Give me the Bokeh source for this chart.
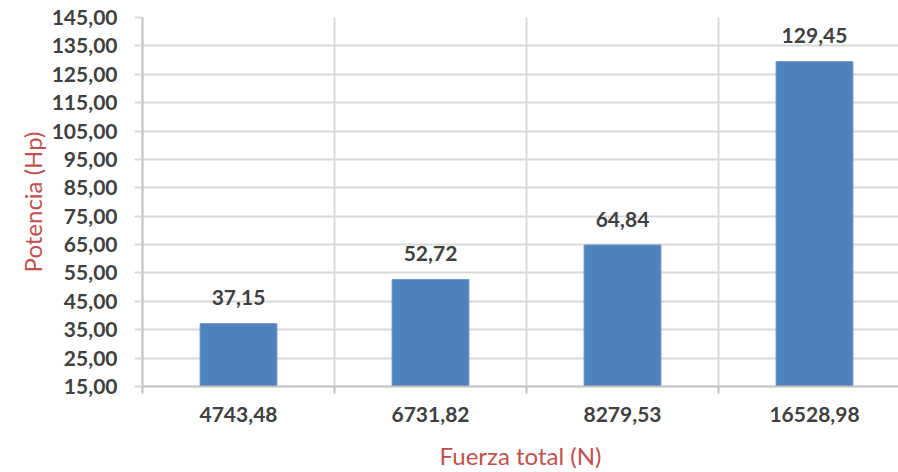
from bokeh.plotting import figure
from bokeh.models import ColumnDataSource, FixedTicker, CustomJSTickFormatter, Range1d
from bokeh.core.properties import value
from bokeh.embed import file_html
from bokeh.resources import INLINE

categories = ["4743,48", "6731,82", "8279,53", "16528,98"]
potencia = [37.15, 52.72, 64.84, 129.45]
y_ticks = list(range(15, 146, 10))

xs = [i + 0.5 for i in range(len(categories))]
labels = [f"{v:.2f}".replace(".", ",") for v in potencia]
src = ColumnDataSource(dict(x=xs, top=potencia, lab=labels))

W, H = 898, 472
p = figure(width=W, height=H, output_backend="svg", toolbar_location=None,
           x_range=Range1d(0, 3.9375), y_range=Range1d(15, 145),
           min_border_left=142, min_border_right=0, min_border_top=17, min_border_bottom=85)
p.outline_line_color = None
p.background_fill_color = "white"

FONT = "Lato"
TXT = "#404040"
RED = "#C0504D"

p.vbar(x="x", top="top", bottom=15, width=0.4, source=src,
       fill_color="#4F81BD", line_color="#6B96CB", line_width=1)
p.text(x="x", y="top", text="lab", source=src, text_align="center",
       text_baseline="middle", y_offset=-26, text_font=value(FONT),
       text_font_style="bold", text_font_size="21px", text_color=TXT)

# y axis
ya = p.yaxis[0]
ya.ticker = FixedTicker(ticks=y_ticks)
ya.formatter = CustomJSTickFormatter(code="return tick.toFixed(2).replace('.', ',');")
ya.axis_line_color = "#BFBFBF"
ya.axis_line_width = 2
ya.major_tick_line_color = "#D9D9D9"
ya.major_tick_line_width = 2
ya.major_tick_out = 8
ya.major_tick_in = 0
ya.minor_tick_line_color = None
ya.major_label_text_font = FONT
ya.major_label_text_font_style = "bold"
ya.major_label_text_font_size = "21px"
ya.major_label_text_color = TXT
ya.major_label_standoff = 17
ya.axis_label = "Potencia (Hp)"
ya.axis_label_text_font = FONT
ya.axis_label_text_font_style = "normal"
ya.axis_label_text_font_size = "24px"
ya.axis_label_text_color = RED
ya.axis_label_standoff = 2

# x axis
xa = p.xaxis[0]
xa.ticker = FixedTicker(ticks=xs, minor_ticks=[0, 1, 2, 3])
xa.major_label_overrides = {x: c for x, c in zip(xs, categories)}
xa.axis_line_color = "#BFBFBF"
xa.axis_line_width = 2
xa.major_tick_line_color = None
xa.minor_tick_line_color = "#BFBFBF"
xa.minor_tick_line_width = 2
xa.minor_tick_out = 7
xa.minor_tick_in = 0
xa.major_label_text_font = FONT
xa.major_label_text_font_style = "bold"
xa.major_label_text_font_size = "21px"
xa.major_label_text_color = TXT
xa.major_label_standoff = 13
xa.axis_label = "Fuerza total (N)"
xa.axis_label_text_font = FONT
xa.axis_label_text_font_style = "normal"
xa.axis_label_text_font_size = "24px"
xa.axis_label_text_color = RED
xa.axis_label_standoff = 16

p.xgrid.ticker = FixedTicker(ticks=[1, 2, 3])
p.xgrid.grid_line_color = "#D9D9D9"
p.xgrid.grid_line_width = 2
p.ygrid.grid_line_color = "#D9D9D9"
p.ygrid.grid_line_width = 2

open("out.html", "w").write(file_html(p, INLINE))
